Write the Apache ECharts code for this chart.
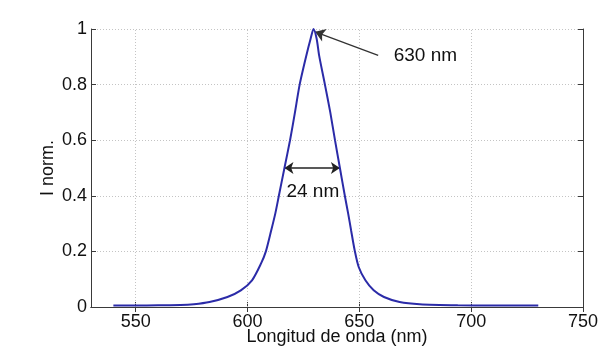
<!DOCTYPE html>
<html>
<head>
<meta charset="utf-8">
<script src="https://cdn.jsdelivr.net/npm/echarts@6/dist/echarts.min.js"></script>
<style>html,body{margin:0;padding:0;background:#fff}#c{width:602px;height:350px}</style>
</head>
<body>
<div id="c"></div>
<script>
// ---- data ----
const wavelength = [540, 550, 560, 570, 576, 583, 591, 597, 602, 606, 608.2, 610.6, 612.4, 614, 616.5, 619, 621.2, 623.3, 626.3, 628.2, 629.5, 630.9, 632, 634.6, 637, 639.1, 641.3, 643.5, 645, 646.3, 648, 649.7, 652.7, 656.4, 661, 668, 677, 694, 710, 730];
const intensity  = [0.005, 0.005, 0.006, 0.007, 0.010, 0.018, 0.036, 0.060, 0.096, 0.156, 0.200, 0.276, 0.336, 0.400, 0.500, 0.600, 0.700, 0.800, 0.905, 0.965, 1.000, 0.965, 0.905, 0.800, 0.700, 0.600, 0.500, 0.400, 0.336, 0.276, 0.200, 0.144, 0.096, 0.060, 0.036, 0.018, 0.010, 0.006, 0.005, 0.005];
const xTicks = [550, 600, 650, 700, 750];
const xGridLines = [550, 600, 650, 700];
const yTicks = [0, 0.2, 0.4, 0.6, 0.8, 1];
const peakArrow = [[658.4, 0.905], [630.2, 0.99]];
const fwhmArrow = [[616.5, 0.5], [641.3, 0.5]];
const labelTexts = ['630 nm', '24 nm'];
const labelX = [679.5, 629.2];
const labelY = [0.905, 0.414];

const FONT = 'Liberation Sans, Arial, Helvetica, sans-serif';
const axisColor = '#3a3a3a';
const gridStyle = {color: '#c4c4c4', type: [1, 2], width: 1};

const chart = echarts.init(document.getElementById('c'), null, {renderer: 'canvas'});
const baseX = {
  type: 'value', min: 530, max: 750,
  axisLine: {show: true, lineStyle: {color: axisColor, width: 1}},
  axisTick: {show: true, inside: true, length: 5, customValues: xTicks, lineStyle: {color: axisColor}},
  splitLine: {show: false}
};
const baseY = {
  type: 'value', min: 0, max: 1, interval: 0.2,
  axisLine: {show: true, lineStyle: {color: axisColor, width: 1}},
  axisTick: {show: true, inside: true, length: 5, lineStyle: {color: axisColor}}
};
chart.setOption({
  backgroundColor: '#ffffff',
  animation: false,
  grid: {left: 91, right: 19, top: 29, bottom: 43, containLabel: false, outerBoundsMode: 'none'},
  xAxis: [
    Object.assign({}, baseX, {
      position: 'bottom',
      name: 'Longitud de onda (nm)', nameLocation: 'middle', nameGap: 21, nameMoveOverlap: false,
      nameTextStyle: {fontFamily: FONT, fontSize: 18, color: '#111'},
      axisLabel: {customValues: xTicks, margin: 6, fontFamily: FONT, fontSize: 18, color: '#111'}
    }),
    Object.assign({}, baseX, {position: 'top', axisLabel: {show: false}})
  ],
  yAxis: [
    Object.assign({}, baseY, {
      position: 'left',
      name: 'I norm.', nameLocation: 'middle', nameGap: 34, nameMoveOverlap: false,
      nameTextStyle: {fontFamily: FONT, fontSize: 18, color: '#111'},
      axisLabel: {margin: 4, fontFamily: FONT, fontSize: 18, color: '#111'},
      splitLine: {show: true, lineStyle: gridStyle}
    }),
    Object.assign({}, baseY, {position: 'right', axisLabel: {show: false}, splitLine: {show: false}})
  ],
  series: [
    {
      type: 'line', data: [], silent: true,
      markLine: {
        silent: true, symbol: ['none', 'none'], animation: false,
        lineStyle: gridStyle, label: {show: false},
        data: xGridLines.map(v => ({xAxis: v}))
      }
    },
    {
      type: 'line',
      data: wavelength.map((w, i) => [w, intensity[i]]),
      showSymbol: false, smooth: 0.25,
      lineStyle: {color: '#2b2ba8', width: 2},
      itemStyle: {color: '#2b2ba8'},
      z: 5
    },
    {
      type: 'line', data: [], silent: true,
      markLine: {
        silent: true, animation: false, symbol: ['none', 'arrow'], symbolSize: 10,
        lineStyle: {color: '#333', type: 'solid', width: 1.3}, label: {show: false},
        data: [[{coord: peakArrow[0]}, {coord: peakArrow[1]}]]
      }
    },
    {
      type: 'line', data: [], silent: true,
      markLine: {
        silent: true, animation: false, symbol: ['arrow', 'arrow'], symbolSize: 9,
        lineStyle: {color: '#222', type: 'solid', width: 1.6}, label: {show: false},
        data: [[{coord: fwhmArrow[0]}, {coord: fwhmArrow[1]}]]
      }
    },
    {
      type: 'line', data: [], silent: true,
      markPoint: {
        silent: true, animation: false, symbol: 'circle', symbolSize: 0,
        label: {show: true, position: 'inside', formatter: p => p.name,
                fontFamily: FONT, fontSize: 19, color: '#111'},
        data: labelTexts.map((t, i) => ({name: t, coord: [labelX[i], labelY[i]]}))
      }
    }
  ]
});
</script>
</body>
</html>
